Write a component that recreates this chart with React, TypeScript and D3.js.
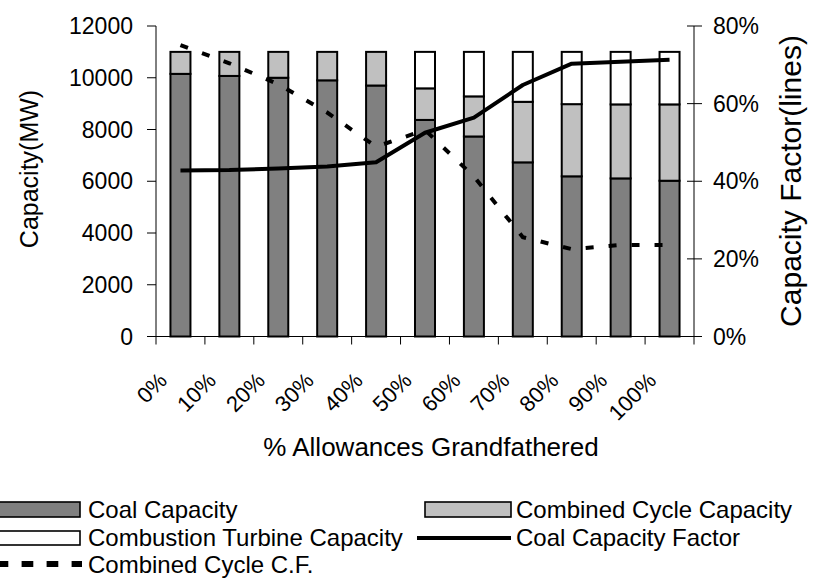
import React from "react";
import * as d3 from "d3";

const categories = ["0%", "10%", "20%", "30%", "40%", "50%", "60%", "70%", "80%", "90%", "100%"];
const coalCapacity = [10150, 10070, 10000, 9900, 9700, 8370, 7730, 6730, 6190, 6110, 6020];
const combinedCycleCapacity = [850, 930, 1000, 1100, 1300, 1220, 1550, 2340, 2790, 2860, 2950];
const combustionTurbineCapacity = [0, 0, 0, 0, 0, 1410, 1720, 1930, 2020, 2030, 2030];
const coalCF = [42.8, 42.9, 43.3, 43.8, 44.9, 52.5, 56.4, 64.8, 70.3, 70.8, 71.3];
const combinedCycleCF = [75.1, 70.4, 65.0, 57.7, 48.9, 53.2, 41.2, 25.6, 22.5, 23.6, 23.6];
const leftTicks = [0, 2000, 4000, 6000, 8000, 10000, 12000];
const rightTicks = [0, 20, 40, 60, 80];

const W = 818, H = 580;
const left = 156, right = 694, top = 26, bottom = 336.5;
const FONT = "'Liberation Sans', Arial, Helvetica, sans-serif";

export default function App() {
  const x = d3.scaleBand<string>().domain(categories).range([left, right]).paddingInner(0).paddingOuter(0);
  const y = d3.scaleLinear().domain([0, 12000]).range([bottom, top]);
  const y2 = d3.scaleLinear().domain([0, 80]).range([bottom, top]);
  const bw = 20;
  const cx = (c: string) => (x(c) as number) + x.bandwidth() / 2;

  const line = d3.line<number>().x((_, i) => cx(categories[i])).y((d) => y2(d));

  const series = [
    { vals: coalCapacity, fill: "#808080" },
    { vals: combinedCycleCapacity, fill: "#c0c0c0" },
    { vals: combustionTurbineCapacity, fill: "#ffffff" },
  ];

  const bars: React.ReactNode[] = [];
  categories.forEach((c, i) => {
    let base = 0;
    series.forEach((s, k) => {
      const v = s.vals[i];
      if (v > 0) {
        bars.push(
          <rect key={`${i}-${k}`} x={cx(c) - bw / 2} y={y(base + v)} width={bw} height={y(base) - y(base + v)}
            fill={s.fill} stroke="#000" strokeWidth={2} />
        );
      }
      base += v;
    });
  });

  const boundaries = [...categories.map((c) => x(c) as number), right];

  return (
    <svg width={W} height={H} style={{ position: "absolute", left: 0, top: 0, background: "#fff" }} fontFamily={FONT}>
      <rect x={0} y={0} width={W} height={H} fill="#fff" />
      {bars}
      {/* left axis */}
      <line x1={left} x2={left} y1={top} y2={bottom} stroke="#000" strokeWidth={1} />
      {leftTicks.map((t) => (
        <g key={t}>
          <line x1={left - 9} x2={left} y1={y(t)} y2={y(t)} stroke="#000" />
          <text x={133} y={y(t)} dy="0.35em" textAnchor="end" fontSize={23}>{t}</text>
        </g>
      ))}
      {/* right axis */}
      <line x1={right} x2={right} y1={top} y2={bottom} stroke="#000" strokeWidth={1} />
      {rightTicks.map((t) => (
        <g key={t}>
          <line x1={right - 7} x2={right + 8} y1={y2(t)} y2={y2(t)} stroke="#000" />
          <text x={713} y={y2(t)} dy="0.35em" textAnchor="start" fontSize={23}>{t}%</text>
        </g>
      ))}
      {/* x axis */}
      <line x1={left} x2={right} y1={bottom} y2={bottom} stroke="#000" />
      {boundaries.map((b, i) => (
        <line key={i} x1={b} x2={b} y1={bottom} y2={bottom + 8} stroke="#000" />
      ))}
      {categories.map((c) => (
        <text key={c} transform={`translate(${cx(c) - 12},${382}) rotate(-45)`} textAnchor="end" fontSize={22}>{c}</text>
      ))}
      {/* lines */}
      <path d={line(coalCF) || ""} fill="none" stroke="#000" strokeWidth={4} strokeLinejoin="round" />
      <path d={line(combinedCycleCF) || ""} fill="none" stroke="#000" strokeWidth={4} strokeDasharray="8,15" />
      {/* titles */}
      <text transform={`translate(38,169) rotate(-90)`} textAnchor="middle" fontSize={25}>Capacity(MW)</text>
      <text transform={`translate(801,181) rotate(-90)`} textAnchor="middle" fontSize={30}>Capacity Factor(lines)</text>
      <text x={431} y={456} textAnchor="middle" fontSize={26}>% Allowances Grandfathered</text>
      {/* legend */}
      <g fontSize={24}>
        <rect x={-6} y={502} width={86} height={15} fill="#808080" stroke="#000" strokeWidth={1.6} />
        <text x={88} y={518}>Coal Capacity</text>
        <rect x={425} y={502} width={86} height={15} fill="#c0c0c0" stroke="#000" strokeWidth={1.6} />
        <text x={516} y={518}>Combined Cycle Capacity</text>
        <rect x={-6} y={531} width={86} height={14} fill="#ffffff" stroke="#000" strokeWidth={1.6} />
        <text x={88} y={546}>Combustion Turbine Capacity</text>
        <line x1={417} x2={511} y1={538} y2={538} stroke="#000" strokeWidth={4} />
        <text x={516} y={546}>Coal Capacity Factor</text>
        <line x1={0} x2={82} y1={564} y2={564} stroke="#000" strokeWidth={6} strokeDasharray="11.7,13.3" strokeDashoffset={3.4} />
        <text x={88} y={573}>Combined Cycle C.F.</text>
      </g>
    </svg>
  );
}
